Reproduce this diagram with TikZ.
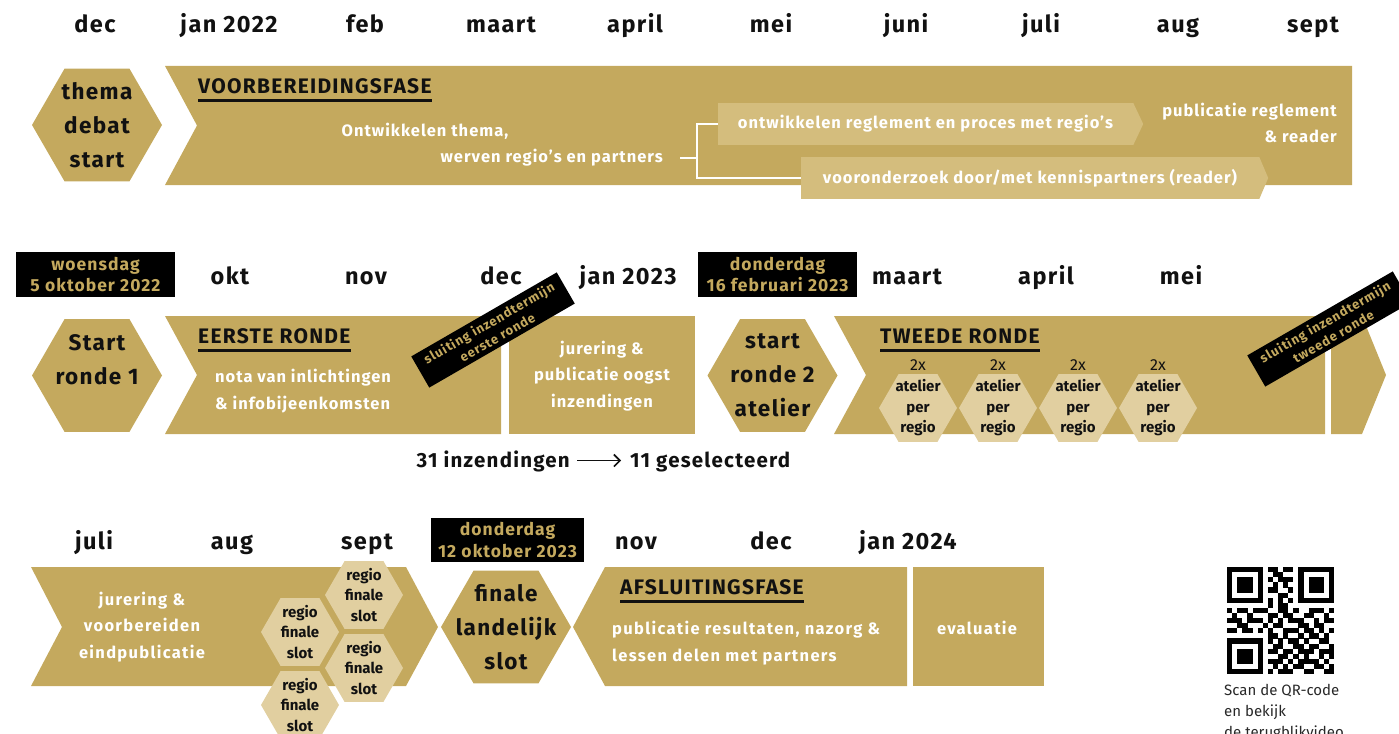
\documentclass[tikz,border=0pt]{standalone}
\usepackage{fontspec}
\setmainfont{Fira Sans}
\newfontfamily\widefont[LetterSpace=6]{Fira Sans}
\newfontfamily\widerfont[LetterSpace=8]{Fira Sans}
\newfontfamily\labelfont[LetterSpace=7]{Fira Sans}
\usetikzlibrary{shapes.geometric,arrows.meta}
\definecolor{gold}{RGB}{196,169,94}
\definecolor{lightgold}{RGB}{212,189,125}
\definecolor{hexlight}{RGB}{225,207,160}
\definecolor{ink}{RGB}{17,17,17}
\definecolor{capgray}{RGB}{40,40,40}

\def\qrscan#1{\ifx.#1\else\ifx1#1\fill[black] ({1227+\qrx*5.1},{567+\qry*5.1}) rectangle ++(5.2,5.2);\fi\pgfmathtruncatemacro\qrx{\qrx+1}\expandafter\qrscan\fi}
\newcommand\qrrow[2]{\def\qry{#1}\def\qrx{0}\qrscan#2.}

\begin{document}
\begin{tikzpicture}[x=1pt,y=-1pt,
  month/.style={font=\widefont\fontsize{23.5}{27}\selectfont\bfseries, text=ink, inner sep=0, anchor=base},
  hexbig/.style={regular polygon, regular polygon sides=6, minimum size=130pt, inner sep=0, fill=gold},
  hexsmall/.style={regular polygon, regular polygon sides=6, minimum size=78pt, inner sep=0, fill=hexlight},
  hextext/.style={font=\widefont\fontsize{22.5}{34}\selectfont\bfseries, align=center, text=ink, inner sep=0},
  smalltext/.style={font=\fontsize{15}{20.5}\selectfont\bfseries, align=center, text=ink, inner sep=0},
  title/.style={font=\widefont\fontsize{21}{25}\selectfont\bfseries, text=ink, inner sep=0, anchor=west},
  ul/.style={line width=3pt, ink},
  wtext/.style={font=\widefont\fontsize{16.5}{26.5}\selectfont\bfseries, text=white, inner sep=0},
  w3text/.style={font=\widerfont\fontsize{16.5}{26.5}\selectfont\bfseries, text=white, inner sep=0},
  strip/.style={fill=lightgold, minimum height=42pt, inner sep=0, font=\widefont\fontsize{16.5}{20}\selectfont\bfseries, text=white},
  datebox/.style={fill=black, minimum width=159pt, minimum height=45pt, inner sep=0, align=center, text=gold, font=\widefont\fontsize{17.5}{21.5}\selectfont\bfseries},
  slabel/.style={fill=black, rotate=30, minimum width=168pt, minimum height=36pt, inner sep=0, align=center, text=gold, font=\labelfont\fontsize{13}{16.5}\selectfont\bfseries},
  twox/.style={font=\fontsize{16}{18}\selectfont, text=ink, inner sep=0},
  conn/.style={white, line width=2.5pt},
  count/.style={font=\widefont\fontsize{20.5}{24}\selectfont\bfseries, text=ink, inner sep=0},
  caption/.style={font=\fontsize{15}{21}\selectfont, text=capgray, inner sep=0, align=left}
]
\useasboundingbox (0,0) rectangle (1399,733);
\clip (0,0) rectangle (1399,733);

% ---------- row 1 ----------
\foreach \t/\x in {dec/95, jan 2022/229, feb/365, maart/501, april/635, mei/771, juni/906, juli/1041, aug/1178, sept/1313}
  \node[month] (ma\x) at (\x,33) {\t};

\fill[gold] (165,66) -- (1352,66) -- (1352,185) -- (165,185) -- (197,125.5) -- cycle;
\node[hexbig] (hex1) at (97,125) {};
\node[hextext] (hex1t) at (hex1) {thema\\debat\\start};
\node[title] (t1) at (198,86) {VOORBEREIDINGSFASE};
\draw[ul] ([yshift=-6.5pt]t1.south west) -- ([yshift=-6.5pt]t1.south east);
\node[wtext] (ont) at (425,131) {Ontwikkelen thema,};
\node[wtext, anchor=east] (werv) at (663,158) {werven regio’s en partners};
\node[strip, minimum width=415pt] (s1) at (925.5,124) {ontwikkelen reglement en proces met regio’s};
\fill[lightgold] (s1.north east) -- ([xshift=10pt]s1.east) -- (s1.south east) -- cycle;
\node[strip, minimum width=458pt] (s2) at (1030,178) {vooronderzoek door/met kennispartners (reader)};
\fill[lightgold] (s2.north east) -- ([xshift=9pt]s2.east) -- (s2.south east) -- cycle;
\coordinate (f0) at (680,158);
\coordinate (fk) at (697,158);
\draw[conn] (f0) -- (fk);
\draw[conn] (s1.west) -| (fk) |- (s2.west);
\node[wtext, align=right, anchor=east] (pub) at (1337,123) {publicatie reglement\\\& reader};

% ---------- row 2 ----------
\node[datebox] (d1) at (95.5,274.5) {woensdag\\5 oktober 2022};
\node[datebox] (d2) at (777.5,274.5) {donderdag\\16 februari 2023};
\foreach \t/\x in {okt/230, nov/366, dec/501, jan 2023/628, maart/907, april/1046, mei/1181}
  \node[month] (mb\x) at (\x,284) {\t};

\fill[gold] (165,316) -- (501,316) -- (501,434) -- (165,434) -- (197,375) -- cycle;
\fill[gold] (509,316) rectangle (695,434);
\fill[gold] (834,316) -- (1325,316) -- (1325,434) -- (834,434) -- (866,375) -- cycle;
\fill[gold] (1331,316) -- (1362,316) -- (1386,375) -- (1362,434) -- (1331,434) -- cycle;

\node[hexbig] (hex2) at (97,375.5) {};
\node[hextext] (hex2t) at ([yshift=16pt]hex2.center) {Start\\ronde 1};
\node[hexbig] (hex3) at (772.5,375.5) {};
\node[hextext] (hex3t) at (hex3) {start\\ronde 2\\atelier};

\node[title] (t2) at (198,336) {EERSTE RONDE};
\draw[ul] ([yshift=-6.5pt]t2.south west) -- ([yshift=-6.5pt]t2.south east);
\node[wtext, anchor=west, align=left] (nota) at (215,391) {nota van inlichtingen\\\& infobijeenkomsten};
\node[wtext, align=center] (jur) at (602,376) {jurering \&\\publicatie oogst\\inzendingen};

\node[title] (t3) at (880,336) {TWEEDE RONDE};
\draw[ul] ([yshift=-6.5pt]t3.south west) -- ([yshift=-6.5pt]t3.south east);
\foreach \i/\x in {1/918, 2/998, 3/1078, 4/1158} {
  \node[hexsmall] (ah\i) at (\x,408) {};
  \node[smalltext] (aht\i) at (ah\i) {atelier\\per\\regio};
  \node[twox] (tx\i) at (\x,365) {2x};
}

\node[slabel] (sl1) at (493,330) {sluiting inzendtermijn\\eerste ronde};
\node[slabel] (sl2) at (1329,329) {sluiting inzendtermijn\\tweede ronde};

\node[count, anchor=base east] (n31) at (570,467) {31 inzendingen};
\node[count, anchor=base west] (n11) at (630,467) {11 geselecteerd};
\draw[-{Straight Barb[length=6pt,width=12pt]}, line width=1.6pt, ink] ([xshift=7pt,yshift=6.5pt]n31.base east) -- ([xshift=-9pt,yshift=6.5pt]n11.base west);

% ---------- row 3 ----------
\node[datebox, minimum width=153pt, minimum height=44pt] (d3) at (507.5,540) {donderdag\\12 oktober 2023};
\foreach \t/\x in {juli/94, aug/232, sept/367, nov/636, dec/771, jan 2024/908}
  \node[month] (mc\x) at (\x,549) {\t};

\fill[gold] (31,567) -- (406,567) -- (438,627) -- (406,686) -- (31,686) -- (62,627) -- cycle;
\node[w3text, align=center] (jv) at (142,627) {jurering \&\\voorbereiden\\eindpublicatie};
\foreach \n/\x/\y in {A/300/632, B/364/595, C/364/668, D/300/705} {
  \node[hexsmall] (rh\n) at (\x,\y) {};
  \node[smalltext] (rht\n) at (rh\n) {regio\\finale\\slot};
}
\node[hexbig] (hex4) at (506,627) {};
\node[hextext] (hex4t) at (hex4) {finale\\landelijk\\slot};

\fill[gold] (605,567) -- (907,567) -- (907,686) -- (605,686) -- (573,627) -- cycle;
\node[title] (t4) at (620,587) {AFSLUITINGSFASE};
\draw[ul] ([yshift=-6.5pt]t4.south west) -- ([yshift=-6.5pt]t4.south east);
\node[w3text, anchor=west, align=left] (pubres) at (612,643) {publicatie resultaten, nazorg \&\\lessen delen met partners};
\fill[gold] (913,567) rectangle (1044,686);
\node[w3text] (eval) at (977,628) {evaluatie};

% ---------- QR ----------
\qrrow{0}{111111101101101111111}
\qrrow{1}{100000100110001000001}
\qrrow{2}{101110101011101011101}
\qrrow{3}{101110100101001011101}
\qrrow{4}{101110101100101011101}
\qrrow{5}{100000100011001000001}
\qrrow{6}{111111101010101111111}
\qrrow{7}{000000001011000000000}
\qrrow{8}{101101110011010011101}
\qrrow{9}{010010001101100110010}
\qrrow{10}{111011101010111001011}
\qrrow{11}{001100010110001101100}
\qrrow{12}{110110101001110110101}
\qrrow{13}{000000001101001011010}
\qrrow{14}{111111101010110100110}
\qrrow{15}{100000100110011011001}
\qrrow{16}{101110101101101110111}
\qrrow{17}{101110100011010100101}
\qrrow{18}{101110101110101111010}
\qrrow{19}{100000100101011001101}
\qrrow{20}{111111101011100110011}
\node[caption, anchor=north west] (cap) at (1224,684) {Scan de QR-code\\en bekijk\\de terugblikvideo};
\end{tikzpicture}
\end{document}
